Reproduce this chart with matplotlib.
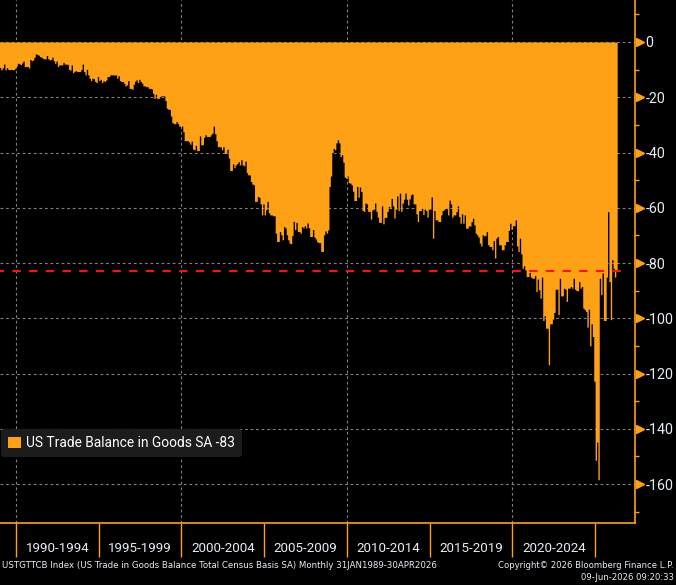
import numpy as np
import matplotlib.pyplot as plt
from matplotlib.patches import Patch
from matplotlib.ticker import FixedLocator, NullFormatter

plt.rcParams['axes.unicode_minus'] = False

# US trade balance in goods, SA, USD bn, monthly Jan 1989 - Apr 2026
y1989 = [-9.2, -10.1, -9.4, -8.0, -10.1, -9.3, -9.9, -10.0, -9.9, -10.0, -10.0, -9.5]
y1990 = [-8.7, -7.7, -7.9, -8.2, -7.6, -6.9, -8.9, -8.9, -8.9, -9.4, -6.3, -6.8]
y1991 = [-6.5, -5.5, -4.3, -4.5, -4.8, -5.3, -5.5, -5.9, -6.1, -6.1, -4.9, -6.1]
y1992 = [-6.5, -6.3, -5.5, -6.8, -7.7, -6.9, -8.9, -8.3, -8.3, -8.3, -7.4, -8.0]
y1993 = [-8.0, -8.1, -9.9, -10.2, -8.3, -11.1, -10.6, -10.4, -10.7, -10.7, -10.7, -10.0]
y1994 = [-8.0, -10.7, -11.9, -9.9, -11.9, -13.1, -14.0, -13.1, -13.3, -14.3, -14.7, -12.5]
y1995 = [-14.0, -13.5, -14.7, -14.0, -14.3, -13.8, -12.5, -12.5, -11.9, -11.9, -11.9, -12.0]
y1996 = [-11.9, -13.1, -12.2, -14.0, -14.3, -14.3, -14.9, -15.9, -15.5, -14.0, -16.8, -16.8]
y1997 = [-17.1, -15.3, -14.2, -13.7, -14.7, -13.5, -14.3, -14.9, -15.9, -15.9, -16.2, -16.2]
y1998 = [-16.8, -16.8, -17.0, -18.6, -20.4, -18.9, -20.4, -20.4, -19.8, -19.5, -19.5, -19.5]
y1999 = [-21.2, -24.0, -24.3, -24.4, -26.8, -29.2, -29.5, -29.6, -28.8, -29.5, -30.4, -30.6]
y2000 = [-30.4, -32.5, -35.7, -35.7, -35.7, -36.2, -37.0, -35.9, -38.8, -39.0, -37.4, -39.3]
y2001 = [-39.3, -34.0, -37.2, -37.2, -34.5, -33.6, -34.2, -34.2, -34.2, -33.6, -33.0, -30.4]
y2002 = [-33.2, -35.7, -37.9, -37.9, -38.0, -39.0, -37.9, -40.3, -40.3, -38.8, -42.0, -46.5]
y2003 = [-46.5, -44.1, -45.5, -44.5, -44.0, -43.3, -44.5, -42.6, -44.5, -44.8, -43.1, -47.3]
y2004 = [-48.1, -48.1, -50.5, -51.4, -51.7, -57.7, -57.7, -55.9, -56.2, -58.6, -62.6, -58.6]
y2005 = [-62.6, -60.7, -57.7, -61.8, -62.6, -62.6, -62.9, -62.9, -69.2, -72.2, -72.2, -68.6]
y2006 = [-69.8, -71.6, -66.8, -67.3, -69.8, -71.6, -72.8, -73.0, -70.0, -64.9, -67.9, -65.3]
y2007 = [-68.6, -68.6, -69.2, -66.8, -67.3, -66.5, -67.3, -65.5, -67.3, -70.4, -70.4, -67.9]
y2008 = [-70.6, -71.3, -72.3, -72.6, -72.6, -75.8, -75.8, -69.8, -68.4, -69.2, -68.0, -52.3]
y2009 = [-48.5, -40.0, -38.5, -39.0, -36.5, -35.4, -36.5, -41.5, -40.8, -43.5, -48.9, -49.3]
y2010 = [-48.5, -50.9, -51.1, -51.7, -54.0, -57.4, -57.4, -52.3, -56.2, -52.5, -54.1, -61.0]
y2011 = [-61.3, -58.3, -58.6, -61.3, -61.3, -64.1, -60.8, -60.5, -58.3, -61.3, -63.4, -65.3]
y2012 = [-65.3, -59.3, -65.8, -63.5, -63.5, -61.3, -59.5, -60.2, -56.6, -59.3, -63.7, -60.5]
y2013 = [-55.7, -61.0, -54.7, -61.3, -58.3, -56.9, -54.7, -56.9, -59.0, -56.8, -55.3, -55.0]
y2014 = [-58.6, -58.6, -62.2, -65.0, -61.0, -61.0, -60.2, -62.5, -60.5, -61.0, -63.4, -60.5]
y2015 = [-60.5, -56.1, -71.0, -61.0, -64.4, -64.4, -65.0, -65.0, -62.6, -61.0, -60.7, -60.2]
y2016 = [-60.2, -62.6, -57.2, -58.6, -63.4, -62.6, -62.6, -61.4, -59.3, -63.2, -65.6, -62.2]
y2017 = [-65.6, -62.6, -67.4, -67.4, -66.6, -66.6, -65.0, -63.8, -66.2, -69.2, -69.8, -70.6]
y2018 = [-72.8, -73.8, -69.8, -70.2, -70.0, -68.6, -73.4, -74.0, -74.0, -75.2, -71.9, -78.2]
y2019 = [-71.0, -70.4, -73.4, -73.4, -75.2, -75.2, -73.4, -72.2, -72.2, -68.2, -65.6, -67.8]
y2020 = [-66.5, -66.5, -64.4, -73.8, -75.8, -71.0, -76.7, -81.9, -81.0, -82.5, -84.9, -84.9]
y2021 = [-83.4, -85.1, -85.5, -85.5, -84.6, -90.3, -85.8, -89.7, -92.7, -85.1, -100.8, -99.1]
y2022 = [-103.6, -103.6, -116.8, -102.0, -102.0, -100.3, -97.9, -89.5, -89.5, -98.7, -85.5, -91.9]
y2023 = [-91.9, -89.1, -89.5, -93.9, -89.1, -89.1, -88.5, -89.1, -85.5, -89.5, -90.0, -90.0]
y2024 = [-86.7, -89.1, -88.5, -96.3, -96.9, -97.5, -103.2, -96.7, -110.0, -102.0, -106.6, -122.8]
y2025 = [-151.4, -144.8, -158.4, -85.5, -91.5, -83.6, -100.8, -100.8, -85.1, -61.4, -86.7, -100.5]
y2026 = [-78.8, -81.9, -85.1, -83.0]

yearly = [y1989, y1990, y1991, y1992, y1993, y1994, y1995, y1996, y1997, y1998,
          y1999, y2000, y2001, y2002, y2003, y2004, y2005, y2006, y2007, y2008,
          y2009, y2010, y2011, y2012, y2013, y2014, y2015, y2016, y2017, y2018,
          y2019, y2020, y2021, y2022, y2023, y2024, y2025, y2026]
balance = np.concatenate([np.array(v, dtype=float) for v in yearly])
last = balance[-1]

period_starts = [1990, 1995, 2000, 2005, 2010, 2015, 2020]
period_labels = ['%d-%d' % (p, p + 4) for p in period_starts]
separators = [1990, 1995, 2000, 2005, 2010, 2015, 2020, 2025]
y_major = [0, -20, -40, -60, -80, -100, -120, -140, -160]
y_minor = [10, -10, -30, -50, -70, -90, -110, -130, -150, -170]

ORANGE = '#FFA115'
TXT = '#E6EDF5'
FONT = 'Roboto'

W, H = 676, 585
fig = plt.figure(figsize=(W / 100, H / 100), dpi=100, facecolor='black')
ax = fig.add_axes([0, 1 - 523 / H, 635 / W, 523 / H])
ax.set_facecolor('black')

# monthly steps
t = 1989 + np.arange(len(balance) + 1) / 12.0
vals = np.append(balance, balance[-1])
ax.fill_between(t, 0, vals, step='post', color=ORANGE, linewidth=0, zorder=2)

ax.axhline(last, xmin=0, xmax=0.989, color='#FF1010', lw=1.5,
           linestyle=(2, (4, 4)), zorder=4)

ax.set_xlim(1989.036, 2027.41)
ax.set_ylim(-174.1, 15.2)

# grid
for yv in y_major:
    ax.axhline(yv, color='#808080', lw=0.8, linestyle=(0, (2.5, 2.5)), zorder=1)
for xv in [1990, 2000, 2010, 2020]:
    ax.axvline(xv, color='#808080', lw=0.8, linestyle=(0, (2.5, 2.5)), zorder=1)

# spines
for s in ['left', 'top']:
    ax.spines[s].set_visible(False)
for s in ['right', 'bottom']:
    ax.spines[s].set_color(ORANGE)
    ax.spines[s].set_linewidth(1.2)
    ax.spines[s].set_zorder(5)

# y axis on the right
ax.yaxis.tick_right()
ax.yaxis.set_major_locator(FixedLocator(y_major))
ax.yaxis.set_minor_locator(FixedLocator(y_minor))
ax.set_yticklabels(['%d' % v for v in y_major])
ax.tick_params(axis='y', which='major', length=0, pad=7.5, labelcolor=TXT,
               labelsize=10.3)
ax.tick_params(axis='y', which='minor', length=3, width=1, color=ORANGE,
               direction='out')
for lab in ax.get_yticklabels():
    lab.set_family(FONT)
ax.plot([1.0075] * len(y_major), y_major, linestyle='none', marker='>',
        markersize=5.5, color=ORANGE, transform=ax.get_yaxis_transform(),
        clip_on=False, zorder=6)

# x axis: period separators and centred labels
ax.xaxis.set_major_locator(FixedLocator(separators))
ax.xaxis.set_major_formatter(NullFormatter())
ax.xaxis.set_minor_locator(FixedLocator([p + 2.5 for p in period_starts]))
ax.set_xticklabels(period_labels, minor=True)
ax.tick_params(axis='x', which='major', length=24.5, width=1, color=ORANGE,
               direction='out')
ax.tick_params(axis='x', which='minor', length=0, pad=13.5, labelcolor=TXT,
               labelsize=9.6)
for lab in ax.get_xticklabels(minor=True):
    lab.set_family(FONT)

# legend
leg = ax.legend(handles=[Patch(facecolor=ORANGE, edgecolor='none')],
                labels=['US Trade Balance in Goods SA %d' % round(last)],
                loc='lower left', bbox_to_anchor=(0.0015, 0.126),
                frameon=True, fancybox=True, facecolor='#1C1C1C',
                edgecolor='none', framealpha=1.0, handlelength=0.95,
                handleheight=0.95, handletextpad=0.4, borderpad=0.5,
                borderaxespad=0, prop={'family': FONT, 'size': 9.9})
for txt in leg.get_texts():
    txt.set_color('white')
leg.set_zorder(7)

# footer
fig.text(0.003, 1 - 565 / H,
         'USTGTTCB Index (US Trade in Goods Balance Total Census Basis SA) Monthly 31JAN1989-30APR2026',
         color=TXT, fontsize=6.25, family='DejaVu Sans', va='center', ha='left')
fig.text(0.997, 1 - 565 / H, 'Copyright\u00a9 2026 Bloomberg Finance L.P.',
         color=TXT, fontsize=6.1, family='DejaVu Sans', va='center', ha='right')
fig.text(0.997, 1 - 577 / H, '09-Jun-2026 09:20:33',
         color=TXT, fontsize=6.1, family='DejaVu Sans', va='center', ha='right')

fig.savefig('out.png', dpi=100, facecolor='black')
